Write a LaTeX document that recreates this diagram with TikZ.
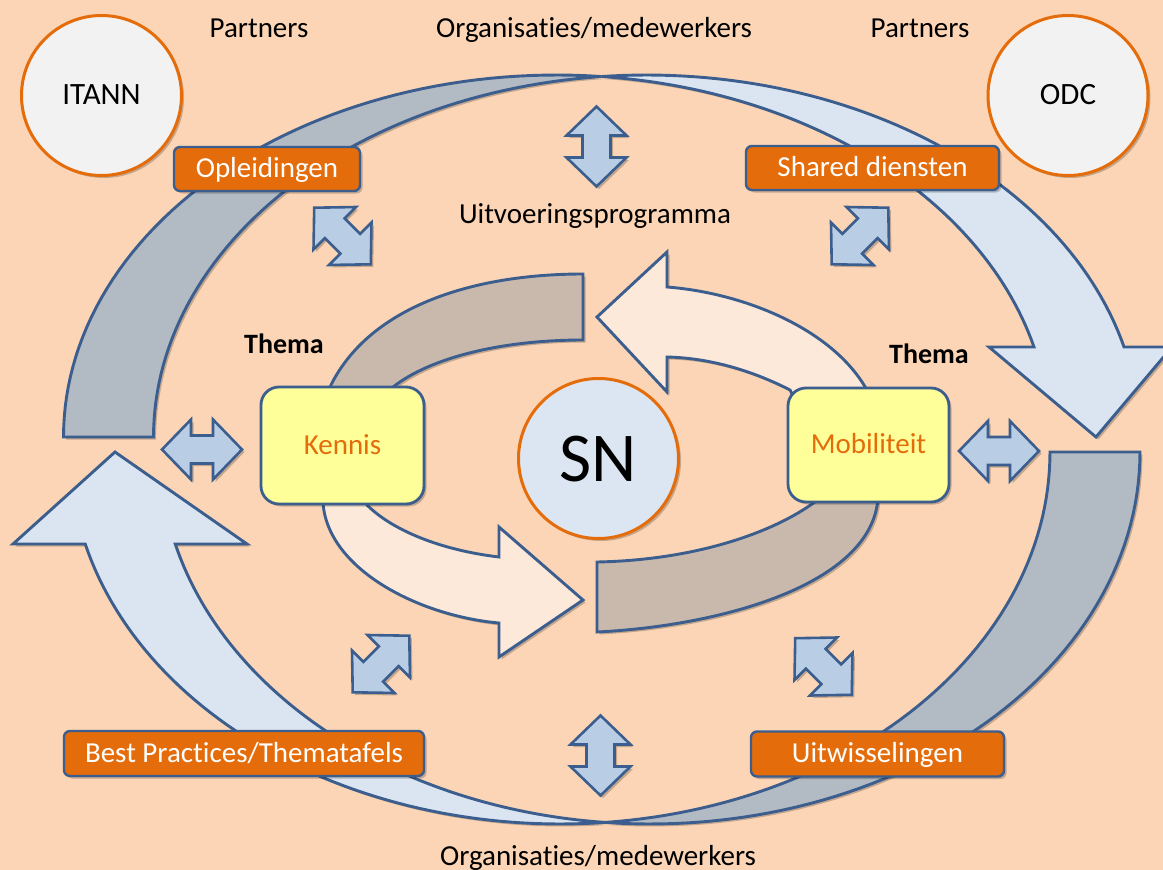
\documentclass[tikz,border=0pt]{standalone}
\usepackage{fontspec}
\setmainfont{Carlito}[Ligatures=NoCommon]
\usetikzlibrary{shadows}
\definecolor{bgC}{HTML}{FBD5B5}
\definecolor{edgeC}{HTML}{3B5E8E}
\definecolor{outDark}{HTML}{B2BAC4}
\definecolor{outLight}{HTML}{DBE5F1}
\definecolor{inDark}{HTML}{C9B9AC}
\definecolor{inLight}{HTML}{FDE9D9}
\definecolor{dblC}{HTML}{B9CDE5}
\definecolor{orangeC}{HTML}{E46C0A}
\definecolor{greyC}{HTML}{F2F2F2}
\definecolor{yellowC}{HTML}{FFFF99}
\definecolor{snC}{HTML}{DCE6F2}
\begin{document}
\begin{tikzpicture}[x=1pt,y=-1pt,
  shad/.style={drop shadow={shadow xshift=2.5pt,shadow yshift=-2.5pt,opacity=0.22,fill=black}},
  band/.style={draw=edgeC,line width=2.9pt,line join=miter,shad},
  lbl/.style={font=\fontsize{29}{34}\selectfont,text=black,inner sep=0pt,anchor=base},
  thema/.style={font=\fontsize{28}{34}\selectfont\bfseries,text=black,inner sep=0pt,anchor=base},
  obox/.style={draw=edgeC,line width=2.4pt,fill=orangeC,rounded corners=6pt,text=white,
    font=\fontsize{29}{34}\selectfont,inner sep=0pt,text height=21pt,text depth=4pt,shad},
  ybox/.style={draw=edgeC,line width=2.8pt,fill=yellowC,rounded corners=18pt,text=orangeC,
    font=\fontsize{29}{34}\selectfont,inner sep=0pt,text height=21pt,text depth=4pt,shad},
  pcirc/.style={circle,draw=orangeC,line width=3pt,fill=greyC,minimum size=160pt,inner sep=0pt,
    font=\fontsize{31}{36}\selectfont,text height=21pt,text depth=4pt,shad},
  sncirc/.style={circle,draw=orangeC,line width=3pt,fill=snC,minimum size=160pt,inner sep=0pt,
    font=\fontsize{70}{80}\selectfont,text height=46pt,text depth=0pt,shad},
  dblarr/.style={draw=edgeC,line width=2.6pt,fill=dblC,line join=miter,shad},
  dbl/.pic={\path[dblarr] (-40,0) -- (-11,-30) -- (-11,-14) -- (11,-14) -- (11,-30) -- (40,0)
     -- (11,30) -- (11,14) -- (-11,14) -- (-11,30) -- cycle;}
]
\useasboundingbox (0,0) rectangle (1163,870);
\clip (0,0) rectangle (1163,870);
\fill[bgC] (0,0) rectangle (1163,870);

% ---- outer ring: top arrow (tail left, head right)
\path[band,fill=outDark]
  plot[variable=\t,domain=180:84.76,samples=60] ({556.5+493*cos(\t)},{437-362*sin(\t)})
  -- plot[variable=\t,domain=95.24:180,samples=60] ({646.5+493*cos(\t)},{437-362*sin(\t)}) -- cycle;
\path[band,fill=outLight]
  plot[variable=\t,domain=95.24:14.4,samples=60] ({646.5+493*cos(\t)},{437-362*sin(\t)})
  -- (1172,347) -- (1096,437) -- (989,347)
  -- plot[variable=\t,domain=14.4:84.76,samples=60] ({556.5+493*cos(\t)},{437-362*sin(\t)}) -- cycle;

% ---- outer ring: bottom arrow (tail right, head left)
\path[band,fill=outDark]
  plot[variable=\t,domain=0:-95.27,samples=60] ({650+490*cos(\t)},{452-372*sin(\t)})
  -- plot[variable=\t,domain=-84.73:0,samples=60] ({560+490*cos(\t)},{452-372*sin(\t)}) -- cycle;
\path[band,fill=outLight]
  plot[variable=\t,domain=-84.73:-165.68,samples=60] ({560+490*cos(\t)},{452-372*sin(\t)})
  -- (13,544) -- (115,452) -- (247,544)
  -- plot[variable=\t,domain=-165.68:-95.27,samples=60] ({650+490*cos(\t)},{452-372*sin(\t)}) -- cycle;

% ---- inner ring
\path[band,fill=inDark]
  (325,400) -- (330,387) .. controls (368,308) and (470,274) .. (583,274)
  -- (583,340) .. controls (500,340) and (430,358) .. (393,387) -- (390,400) -- cycle;
\path[band,fill=inLight]
  (667,287) .. controls (745,293) and (835,330) .. (868,392) -- (868,400) -- (795,400)
  -- (790,390) .. controls (755,372) and (712,358) .. (667,357)
  -- (667,392) -- (597,317) -- (667,252) -- cycle;
\path[band,fill=inLight]
  (320,495) -- (323,503) .. controls (328,570) and (420,616) .. (499,623)
  -- (499,657) -- (583,600) -- (499,527) -- (499,557)
  .. controls (440,550) and (392,530) .. (367,505) -- (365,495) -- cycle;
\path[band,fill=inDark]
  (597,632) .. controls (720,626) and (872,585) .. (878,498) -- (820,498)
  .. controls (780,530) and (700,560) .. (597,562) -- cycle;

% ---- double arrows
\pic at (596.5,146.5) [rotate=90] {dbl};
\pic at (600.5,755.5) [rotate=90] {dbl};
\pic at (202,449.5) {dbl};
\pic at (999,451) {dbl};
\pic at (342.5,236) [rotate=-45] {dbl};
\pic at (860,236) [rotate=45] {dbl};
\pic at (381,664) [rotate=45] {dbl};
\pic at (823.5,666.5) [rotate=-45] {dbl};

% ---- nodes
\node[pcirc] (itann) at (101.5,95.5) {ITANN};
\node[pcirc] (odc) at (1068,95.5) {ODC};
\node[sncirc] (sn) at (598.5,458.5) {SN};
\node[ybox,minimum width=163pt,minimum height=117pt] (kennis) at (342.5,445.5) {Kennis};
\node[ybox,minimum width=161pt,minimum height=114pt] (mobi) at (868.5,445) {Mobiliteit};

\node[obox,minimum width=186pt,minimum height=44pt] (oplei) at (267,169) {Opleidingen};
\node[obox,minimum width=253pt,minimum height=44pt] (shared) at (872.5,168) {Shared diensten};
\node[obox,minimum width=360pt,minimum height=45pt] (best) at (244,753.5) {Best Practices/Thematafels};
\node[obox,minimum width=253pt,minimum height=45pt] (uitw) at (877.5,754) {Uitwisselingen};

% ---- labels
\node[lbl] (partL) at (259,37) {Partners};
\node[lbl] (partR) at (920,37) {Partners};
\node[lbl] (orgT) at (594,37) {Organisaties/medewerkers};
\node[lbl] (uitv) at (595,223) {Uitvoeringsprogramma};
\node[lbl] (orgB) at (598,865) {Organisaties/medewerkers};
\node[thema] (themaL) at (284,353) {Thema};
\node[thema] (themaR) at (929,363) {Thema};
\end{tikzpicture}
\end{document}
